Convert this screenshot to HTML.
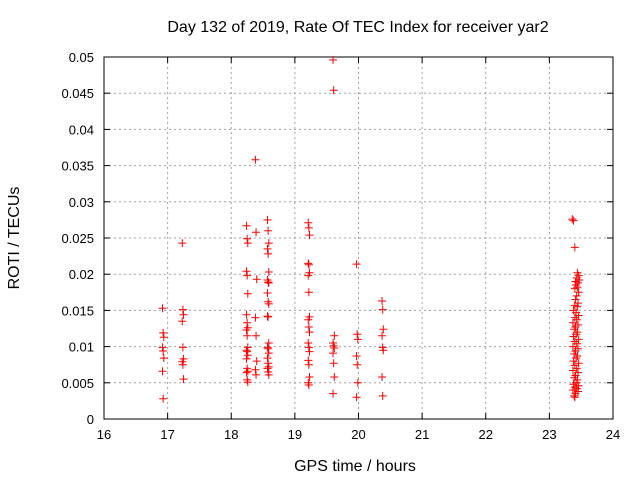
<!DOCTYPE html>
<html><head><meta charset="utf-8"><style>
body{margin:0;background:#fff}
svg{display:block;font-family:"Liberation Sans",sans-serif}
</style></head><body>
<svg id="c" width="640" height="480"></svg>
<script>
const xTicks=[16,17,18,19,20,21,22,23,24];
const yTicks=[0,0.005,0.01,0.015,0.02,0.025,0.03,0.035,0.04,0.045,0.05];
const yTickLabels=["0","0.005","0.01","0.015","0.02","0.025","0.03","0.035","0.04","0.045","0.05"];
const colX=[16.93,17.24,18.25,18.39,18.58,19.22,19.61,19.98,20.38];
const colVals=[
[.0153,.0119,.0113,.0099,.0094,.0084,.0066,.0028],
[.0243,.0151,.0144,.0135,.0099,.0083,.0079,.0075,.0055],
[.0267,.0249,.0243,.0204,.0198,.0173,.0144,.0133,.0126,.0123,.0115,.0099,.0095,.0093,.0088,.0083,.0070,.0066,.0064,.0054,.0051],
[.0358,.0258,.0193,.0140,.0115,.0080,.0068,.0061],
[.0275,.0260,.0243,.0235,.0228,.0203,.0192,.0189,.0188,.0174,.0162,.0159,.0142,.0141,.0105,.0099,.0097,.0091,.0084,.0077,.0072,.0070,.0065,.0061],
[.0271,.0264,.0254,.0215,.0213,.0202,.0198,.0175,.0141,.0137,.0127,.0120,.0105,.0099,.0093,.0081,.0075,.0058,.0050,.0047],
[.0496,.0454,.0115,.0105,.0101,.0098,.0091,.0077,.0058,.0035],
[.0214,.0117,.0110,.0087,.0075,.0050,.0030],
[.0163,.0151,.0124,.0115,.0099,.0095,.0058,.0032]];
const lateX=[23.36,23.38,23.40,23.44,23.46,23.43,23.47,23.41,23.45,23.42,23.44,23.40,23.46,23.43,23.41,23.45,23.40,23.44,23.38,23.42,23.46,23.40,23.43,23.37,23.45,23.41,23.39,23.44,23.42,23.38,23.46,23.40,23.43,23.37,23.45,23.41,23.39,23.44,23.42,23.38,23.46,23.40,23.43,23.37,23.45,23.41,23.39,23.44,23.42,23.38,23.46,23.40,23.43,23.37,23.45,23.41,23.39,23.40];
const lateVals=[.0276,.0274,.0237,.0202,.0198,.0195,.0192,.0190,.0188,.0185,.0182,.0180,.0175,.0170,.0165,.0160,.0157,.0155,.0150,.0147,.0143,.0140,.0137,.0133,.0130,.0127,.0124,.0120,.0117,.0114,.0110,.0107,.0104,.0100,.0097,.0094,.0090,.0087,.0084,.0080,.0077,.0074,.0070,.0067,.0064,.0060,.0057,.0054,.0050,.0048,.0046,.0044,.0042,.0040,.0038,.0035,.0032,.0030];
const L=104,R=613,T=57,B=419;
const sx=v=>L+(v-16)/8*(R-L), sy=v=>B-v/0.05*(B-T);
const svg=document.getElementById('c');const NS='http://www.w3.org/2000/svg';
function mk(t,a,txt){const e=document.createElementNS(NS,t);for(const k in a)e.setAttribute(k,a[k]);if(txt!=null)e.textContent=txt;svg.appendChild(e);return e;}
xTicks.forEach((v,i)=>{const x=sx(v);
 if(i>0&&i<xTicks.length-1){const g=mk('line',{x1:x,x2:x,y1:T,y2:B,stroke:'#a0a0a0','stroke-dasharray':'2,3'});
 
 }
 mk('line',{x1:x,x2:x,y1:B,y2:B-6,stroke:'#000'});mk('line',{x1:x,x2:x,y1:T,y2:T+6,stroke:'#000'});
 const t=mk('text',{x:x,y:B+20,'text-anchor':'middle','font-size':13},String(v));
 
 });
yTicks.forEach((v,i)=>{const y=sy(v);
 if(i>0&&i<yTicks.length-1){const g=mk('line',{x1:L,x2:R,y1:y,y2:y,stroke:'#a0a0a0','stroke-dasharray':'2,3'});
 
 }
 mk('line',{x1:L,x2:L+6,y1:y,y2:y,stroke:'#000'});mk('line',{x1:R,x2:R-6,y1:y,y2:y,stroke:'#000'});
 const t=mk('text',{x:L-10,y:y+5,'text-anchor':'end','font-size':13},yTickLabels[i]);
 
 });
const fr=mk('rect',{x:L,y:T,width:R-L,height:B-T,fill:'none',stroke:'#000'});


function pt(xv,yv){const x=sx(xv),y=sy(yv);
 const p=mk('path',{d:`M${x-4},${y}h8M${x},${y-4}v8`,stroke:'#f00','stroke-width':1});
 
 }
colVals.forEach((arr,i)=>arr.forEach((v,j)=>pt(colX[i]+((j%3)-1)*0.01,v)));
lateVals.forEach((v,j)=>pt(lateX[j],v));
const ti=mk('text',{x:358,y:32,'text-anchor':'middle','font-size':16},'Day 132 of 2019, Rate Of TEC Index for receiver yar2');


const xl=mk('text',{x:355,y:471,'text-anchor':'middle','font-size':16},'GPS time / hours');


const yl=mk('text',{x:19,y:238,'text-anchor':'middle','font-size':16,transform:'rotate(-90 19 238)'},'ROTI / TECUs');


</script>
</body></html>
